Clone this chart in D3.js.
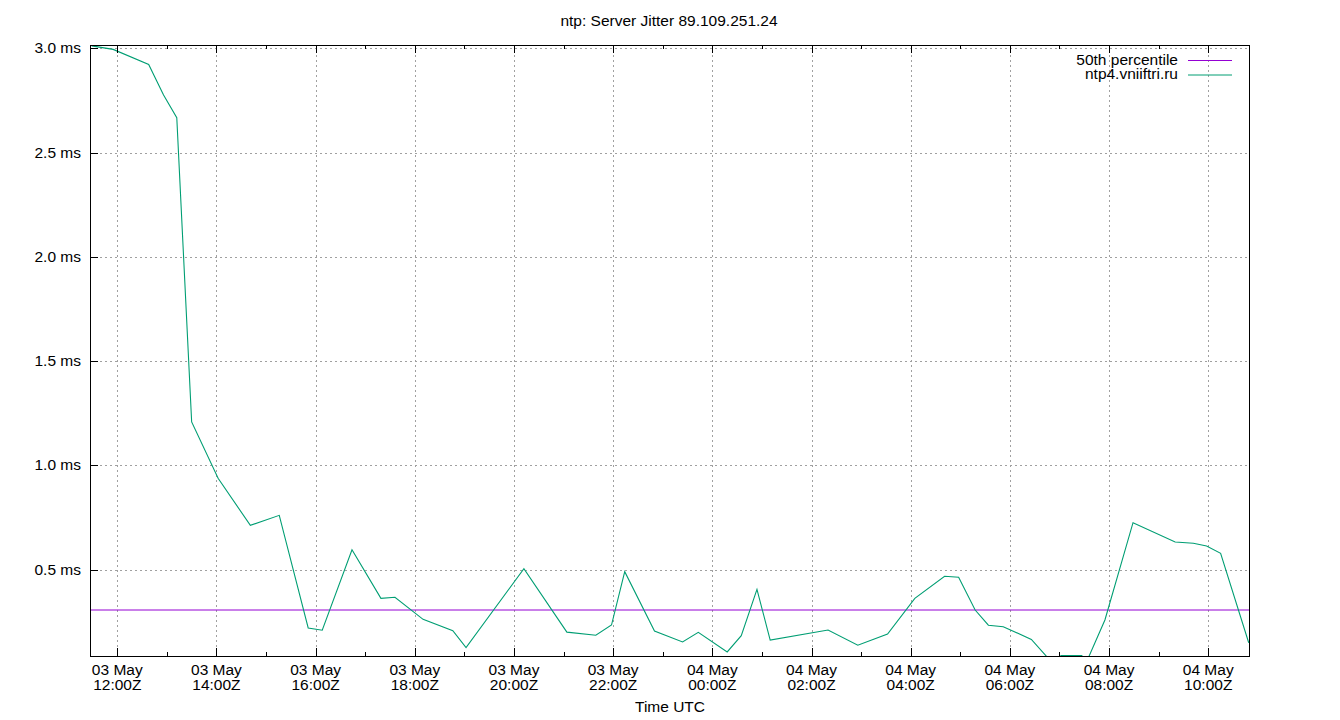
<!DOCTYPE html>
<html>
<head>
<meta charset="utf-8">
<script src="https://cdn.jsdelivr.net/npm/d3@7"></script>
<style>
  html, body { margin: 0; padding: 0; background: #fff; }
  svg { display: block; }
  text { font-family: "Liberation Sans", Arial, sans-serif; fill: #000; }
</style>
</head>
<body>
<svg id="chart" width="1340" height="720"></svg>
<script>
// ---- data ----
const title = "ntp: Server Jitter 89.109.251.24";
const xAxisTitle = "Time UTC";
const seriesName = "ntp4.vniiftri.ru";
const percentileName = "50th percentile";
const percentile50 = 0.306;
const times = [
  "2024-05-03T11:29Z","2024-05-03T11:55Z","2024-05-03T12:38Z","2024-05-03T12:56Z","2024-05-03T13:12Z",
  "2024-05-03T13:30Z","2024-05-03T14:02Z","2024-05-03T14:41Z","2024-05-03T15:16Z","2024-05-03T15:51Z",
  "2024-05-03T16:08Z","2024-05-03T16:44Z","2024-05-03T17:19Z","2024-05-03T17:36Z","2024-05-03T18:10Z",
  "2024-05-03T18:46Z","2024-05-03T19:02Z","2024-05-03T20:12Z","2024-05-03T21:04Z","2024-05-03T21:39Z",
  "2024-05-03T21:58Z","2024-05-03T22:14Z","2024-05-03T22:50Z","2024-05-03T23:24Z","2024-05-03T23:43Z",
  "2024-05-04T00:18Z","2024-05-04T00:35Z","2024-05-04T00:54Z","2024-05-04T01:10Z","2024-05-04T02:20Z",
  "2024-05-04T02:56Z","2024-05-04T03:32Z","2024-05-04T04:05Z","2024-05-04T04:41Z","2024-05-04T04:58Z",
  "2024-05-04T05:18Z","2024-05-04T05:34Z","2024-05-04T05:52Z","2024-05-04T06:26Z","2024-05-04T06:51Z",
  "2024-05-04T07:02Z","2024-05-04T07:27Z","2024-05-04T07:32Z","2024-05-04T07:55Z","2024-05-04T08:29Z",
  "2024-05-04T09:20Z","2024-05-04T09:42Z","2024-05-04T09:58Z","2024-05-04T10:15Z","2024-05-04T10:49Z"
];
const jitterMs = [
  3.012, 2.995, 2.923, 2.776, 2.667,
  1.208, 0.938, 0.712, 0.760, 0.220,
  0.209, 0.595, 0.362, 0.367, 0.261,
  0.207, 0.126, 0.504, 0.200, 0.185,
  0.234, 0.490, 0.205, 0.153, 0.199,
  0.105, 0.183, 0.405, 0.162, 0.210,
  0.137, 0.191, 0.362, 0.468, 0.463,
  0.306, 0.233, 0.226, 0.165, 0.054,
  0.088, 0.088, 0.050, 0.258, 0.725,
  0.632, 0.626, 0.613, 0.578, 0.149
];
const xDomain = ["2024-05-03T11:27:00Z", "2024-05-04T10:49:20Z"];
const yDomain = [0.0854, 3.016];
const yTicks = [0.5, 1.0, 1.5, 2.0, 2.5, 3.0];

// ---- layout ----
const L = 90, R = 1249, T = 45, B = 656;
const svg = d3.select("#chart");
const x = d3.scaleUtc().domain(xDomain.map(d => new Date(d))).range([L, R]);
const y = d3.scaleLinear().domain(yDomain).range([B, T]);
const data = times.map((t, i) => ({ t: new Date(t), v: jitterMs[i] }));

const majorTicks = d3.utcHour.every(2).range(x.domain()[0], x.domain()[1]);
const minorTicks = d3.utcHour.every(1).range(x.domain()[0], x.domain()[1]).filter(d => d.getUTCHours() % 2 === 1);

// grid
const grid = svg.append("g").attr("stroke", "#a0a0a0").attr("stroke-width", 1).attr("stroke-dasharray", "2,3").attr("shape-rendering", "crispEdges");
majorTicks.forEach(d => {
  const px = Math.round(x(d)) + 0.5;
  grid.append("line").attr("x1", px).attr("x2", px).attr("y1", T).attr("y2", B);
});
yTicks.forEach(v => {
  const py = Math.round(y(v)) + 0.5;
  grid.append("line").attr("x1", L).attr("x2", R).attr("y1", py).attr("y2", py);
});

// clip
svg.append("clipPath").attr("id", "clip").append("rect").attr("x", L).attr("y", T).attr("width", R - L).attr("height", B - T + 0.5);

// percentile line
svg.append("line").attr("clip-path", "url(#clip)")
  .attr("x1", L).attr("x2", R).attr("y1", y(percentile50)).attr("y2", y(percentile50))
  .attr("stroke", "#9400d3").attr("stroke-width", 1);

// series
const line = d3.line().x(d => x(d.t)).y(d => y(d.v));
svg.append("path").datum(data).attr("clip-path", "url(#clip)")
  .attr("d", line).attr("fill", "none").attr("stroke", "#009e73").attr("stroke-width", 1.1);

// border
svg.append("rect").attr("x", L + 0.5).attr("y", T + 0.5).attr("width", R - L).attr("height", B - T)
  .attr("fill", "none").attr("stroke", "#000").attr("stroke-width", 1).attr("shape-rendering", "crispEdges");

// ticks
const ticks = svg.append("g").attr("stroke", "#000").attr("stroke-width", 1).attr("shape-rendering", "crispEdges");
majorTicks.forEach(d => {
  const px = Math.round(x(d)) + 0.5;
  ticks.append("line").attr("x1", px).attr("x2", px).attr("y1", B).attr("y2", B - 8);
  ticks.append("line").attr("x1", px).attr("x2", px).attr("y1", T).attr("y2", T + 8);
});
minorTicks.forEach(d => {
  const px = Math.round(x(d)) + 0.5;
  ticks.append("line").attr("x1", px).attr("x2", px).attr("y1", B).attr("y2", B - 4);
  ticks.append("line").attr("x1", px).attr("x2", px).attr("y1", T).attr("y2", T + 4);
});
yTicks.forEach(v => {
  const py = Math.round(y(v)) + 0.5;
  ticks.append("line").attr("x1", L).attr("x2", L + 8).attr("y1", py).attr("y2", py);
});

// y labels
const fs = 15.5;
yTicks.forEach(v => {
  svg.append("text").attr("x", 81).attr("y", y(v) + 5).attr("text-anchor", "end")
    .attr("font-size", fs).text(d3.format(".1f")(v) + " ms");
});
// x labels
const fDay = d3.utcFormat("%d %b"), fTime = d3.utcFormat("%H:%MZ");
majorTicks.forEach(d => {
  const px = x(d);
  svg.append("text").attr("x", px).attr("y", 675).attr("text-anchor", "middle").attr("font-size", fs).text(fDay(d));
  svg.append("text").attr("x", px).attr("y", 690).attr("text-anchor", "middle").attr("font-size", fs).text(fTime(d));
});

// titles
svg.append("text").attr("x", 669).attr("y", 26).attr("text-anchor", "middle").attr("font-size", fs).text(title);
svg.append("text").attr("x", 670).attr("y", 712).attr("text-anchor", "middle").attr("font-size", fs).text(xAxisTitle);

// legend
const legend = [
  { name: percentileName, color: "#9400d3", y: 60.5 },
  { name: seriesName, color: "#009e73", y: 75 }
];
legend.forEach(l => {
  svg.append("text").attr("x", 1178).attr("y", l.y + 4).attr("text-anchor", "end").attr("font-size", fs).text(l.name);
  svg.append("line").attr("x1", 1188).attr("x2", 1232).attr("y1", l.y).attr("y2", l.y)
    .attr("stroke", l.color).attr("stroke-width", 1);
});
</script>
</body>
</html>
